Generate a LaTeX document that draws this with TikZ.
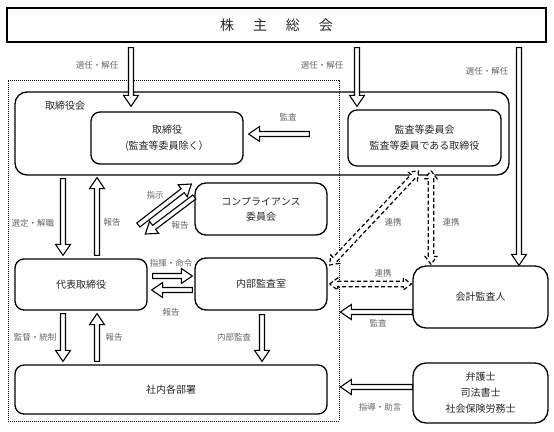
\documentclass[tikz,border=0pt]{standalone}
\usepackage{fontspec}
\setmainfont{Noto Sans CJK JP}
\usetikzlibrary{calc}
\tikzset{
  box/.style={draw=black, line width=1.3pt, rounded corners=9pt, align=center, inner sep=0pt,
    font=\fontsize{10}{16}\selectfont, text=black!85},
  lbl/.style={font=\fontsize{8.5}{10}\selectfont, text=black!60, inner sep=0pt},
  blk/.style={draw=black, line width=1.1pt, fill=white, line join=miter},
  dblk/.style={draw=black, line width=1.2pt, dash pattern=on 4pt off 2.5pt, fill=white},
}
% hollow block arrow: start, end, shorten start, shorten end
\newcommand\barrow[4]{%
  \path (#1) coordinate (bA) (#2) coordinate (bB);
  \path ($(bA)!#3!(bB)$) coordinate (bS) ($(bB)!#4!(bA)$) coordinate (bE);
  \path ($(bE)!11pt!(bS)$) coordinate (bH);
  \draw[blk] ($(bS)!2.5pt!90:(bE)$) -- ($(bH)!2.5pt!-90:(bS)$) -- ($(bH)!7.5pt!-90:(bS)$)
    -- (bE) -- ($(bH)!7.5pt!90:(bS)$) -- ($(bH)!2.5pt!90:(bS)$) -- ($(bS)!2.5pt!-90:(bE)$) -- cycle;
}
% dashed double-headed block arrow
\newcommand\dbarrow[4]{%
  \path (#1) coordinate (bA) (#2) coordinate (bB);
  \path ($(bA)!#3!(bB)$) coordinate (bS) ($(bB)!#4!(bA)$) coordinate (bE);
  \path ($(bS)!8pt!(bE)$) coordinate (bH1) ($(bE)!8pt!(bS)$) coordinate (bH2);
  \draw[dblk] (bS) -- ($(bH1)!6pt!90:(bE)$) -- ($(bH1)!2.8pt!90:(bE)$) -- ($(bH2)!2.8pt!-90:(bS)$)
    -- ($(bH2)!6pt!-90:(bS)$) -- (bE) -- ($(bH2)!6pt!90:(bS)$) -- ($(bH2)!2.8pt!90:(bS)$)
    -- ($(bH1)!2.8pt!-90:(bE)$) -- ($(bH1)!6pt!-90:(bE)$) -- cycle;
}
\begin{document}
\begin{tikzpicture}[x=1pt,y=-1pt]
\useasboundingbox (0,0) rectangle (554,431);
% guide coordinates
\coordinate (x63) at (63,0);
\coordinate (x97) at (97,0);
\coordinate (x131) at (131,0);
\coordinate (x262) at (262,0);
\coordinate (x357) at (357,0);
\coordinate (x431) at (431,0);
\coordinate (x519) at (519,0);
\coordinate (y134) at (0,134);
\coordinate (y276) at (0,276);
\coordinate (y290) at (0,290);
\coordinate (y284) at (0,284);
\coordinate (y312) at (0,312);
\coordinate (y387) at (0,387);

% dotted group
\node[draw, line width=0.8pt, dash pattern=on 0.8pt off 1.2pt, minimum width=331pt, minimum height=341pt, inner sep=0pt] (grp) at (173.5,250.5) {};

% boxes
\node[draw=black, line width=1.3pt, minimum width=539pt, minimum height=34pt, inner sep=0pt,
  font=\fontsize{14}{16}\selectfont, text=black!85] (sh) at (276.5,25)
  {株\hspace{19pt}主\hspace{19pt}総\hspace{19pt}会};
\node[box, rounded corners=12pt, minimum width=494pt, minimum height=83pt] (bd) at (262,133.5) {};
\node[box, draw=none, anchor=center] (bdl) at (65,106) {取締役会};
\node[box, minimum width=152pt, minimum height=52pt] (tr) at (167,138) {取締役\\(監査等委員除く）};
\node[box, minimum width=153pt, minimum height=56pt] (ac) at (424.5,138) {監査等委員会\\監査等委員である取締役};
\node[box, rounded corners=11pt, minimum width=132pt, minimum height=52pt, font=\fontsize{10}{15}\selectfont] (cc) at (261,209) {コンプライアンス\\委員会};
\node[box, minimum width=132pt, minimum height=51pt] (rep) at (81,284.5) {代表取締役};
\node[box, rounded corners=11pt, minimum width=132pt, minimum height=52pt] (ia) at (261,284) {内部監査室};
\node[box, minimum width=312pt, minimum height=49pt] (dept) at (171,389.5) {社内各部署};
\node[box, rounded corners=13pt, minimum width=135pt, minimum height=62pt] (aud) at (480.5,297) {会計監査人};
\node[box, rounded corners=13pt, minimum width=135pt, minimum height=60pt] (law) at (480.5,393) {弁護士\\司法書士\\社会保険労務士};

% block arrows
\barrow{x131 |- sh.south}{x131 |- tr.north}{5pt}{5pt}
\barrow{x357 |- sh.south}{x357 |- ac.north}{5pt}{3pt}
\barrow{x519 |- sh.south}{x519 |- aud.north}{5pt}{0pt}
\barrow{y134 -| ac.west}{y134 -| tr.east}{38pt}{5pt}
\barrow{x63 |- bd.south}{x63 |- rep.north}{3pt}{3pt}
\barrow{x97 |- rep.north}{x97 |- bd.south}{3pt}{2pt}
\barrow{$(cc.west)+(-56,16)$}{$(cc.west)+(-3,-25)$}{0pt}{0pt}
\barrow{$(cc.west)+(0,-12)$}{$(cc.west)+(-49,25)$}{0pt}{0pt}
\barrow{y276 -| rep.east}{y276 -| ia.west}{5pt}{2pt}
\barrow{y290 -| ia.west}{y290 -| rep.east}{2pt}{4pt}
\barrow{x63 |- rep.south}{x63 |- dept.north}{3pt}{3pt}
\barrow{x97 |- dept.north}{x97 |- rep.south}{3pt}{3pt}
\barrow{x262 |- ia.south}{x262 |- dept.north}{4pt}{3pt}
\barrow{y312 -| aud.west}{y312 -| grp.east}{0pt}{1pt}
\barrow{y387 -| law.west}{y387 -| grp.east}{0pt}{1pt}

% dashed double arrows
\dbarrow{$(ac.south)+(-6,4)$}{$(ia.east)+(2,-19)$}{0pt}{0pt}
\dbarrow{x431 |- ac.south}{x431 |- aud.north}{4pt}{1pt}
\dbarrow{y284 -| ia.east}{y284 -| aud.west}{2pt}{1pt}

% labels
\node[lbl] (l1) at (97,65) {選任・解任};
\node[lbl] (l2) at (322,65) {選任・解任};
\node[lbl] (l3) at (487,71) {選任・解任};
\node[lbl] (l4) at (288,117) {監査};
\node[lbl] (l5) at (33,223) {選定・解職};
\node[lbl] (l6) at (112,222) {報告};
\node[lbl] (l7) at (155,195) {指示};
\node[lbl] (l8) at (180,225) {報告};
\node[lbl] (l9) at (171,263) {指揮・命令};
\node[lbl] (l10) at (171,312) {報告};
\node[lbl] (l11) at (35,337) {監督・統制};
\node[lbl] (l12) at (114,337) {報告};
\node[lbl] (l13) at (234,337) {内部監査};
\node[lbl] (l14) at (393,222) {連携};
\node[lbl] (l15) at (451,222) {連携};
\node[lbl] (l16) at (383,273) {連携};
\node[lbl] (l17) at (378,323) {監査};
\node[lbl] (l18) at (380,407) {指導・助言};
\end{tikzpicture}
\end{document}
